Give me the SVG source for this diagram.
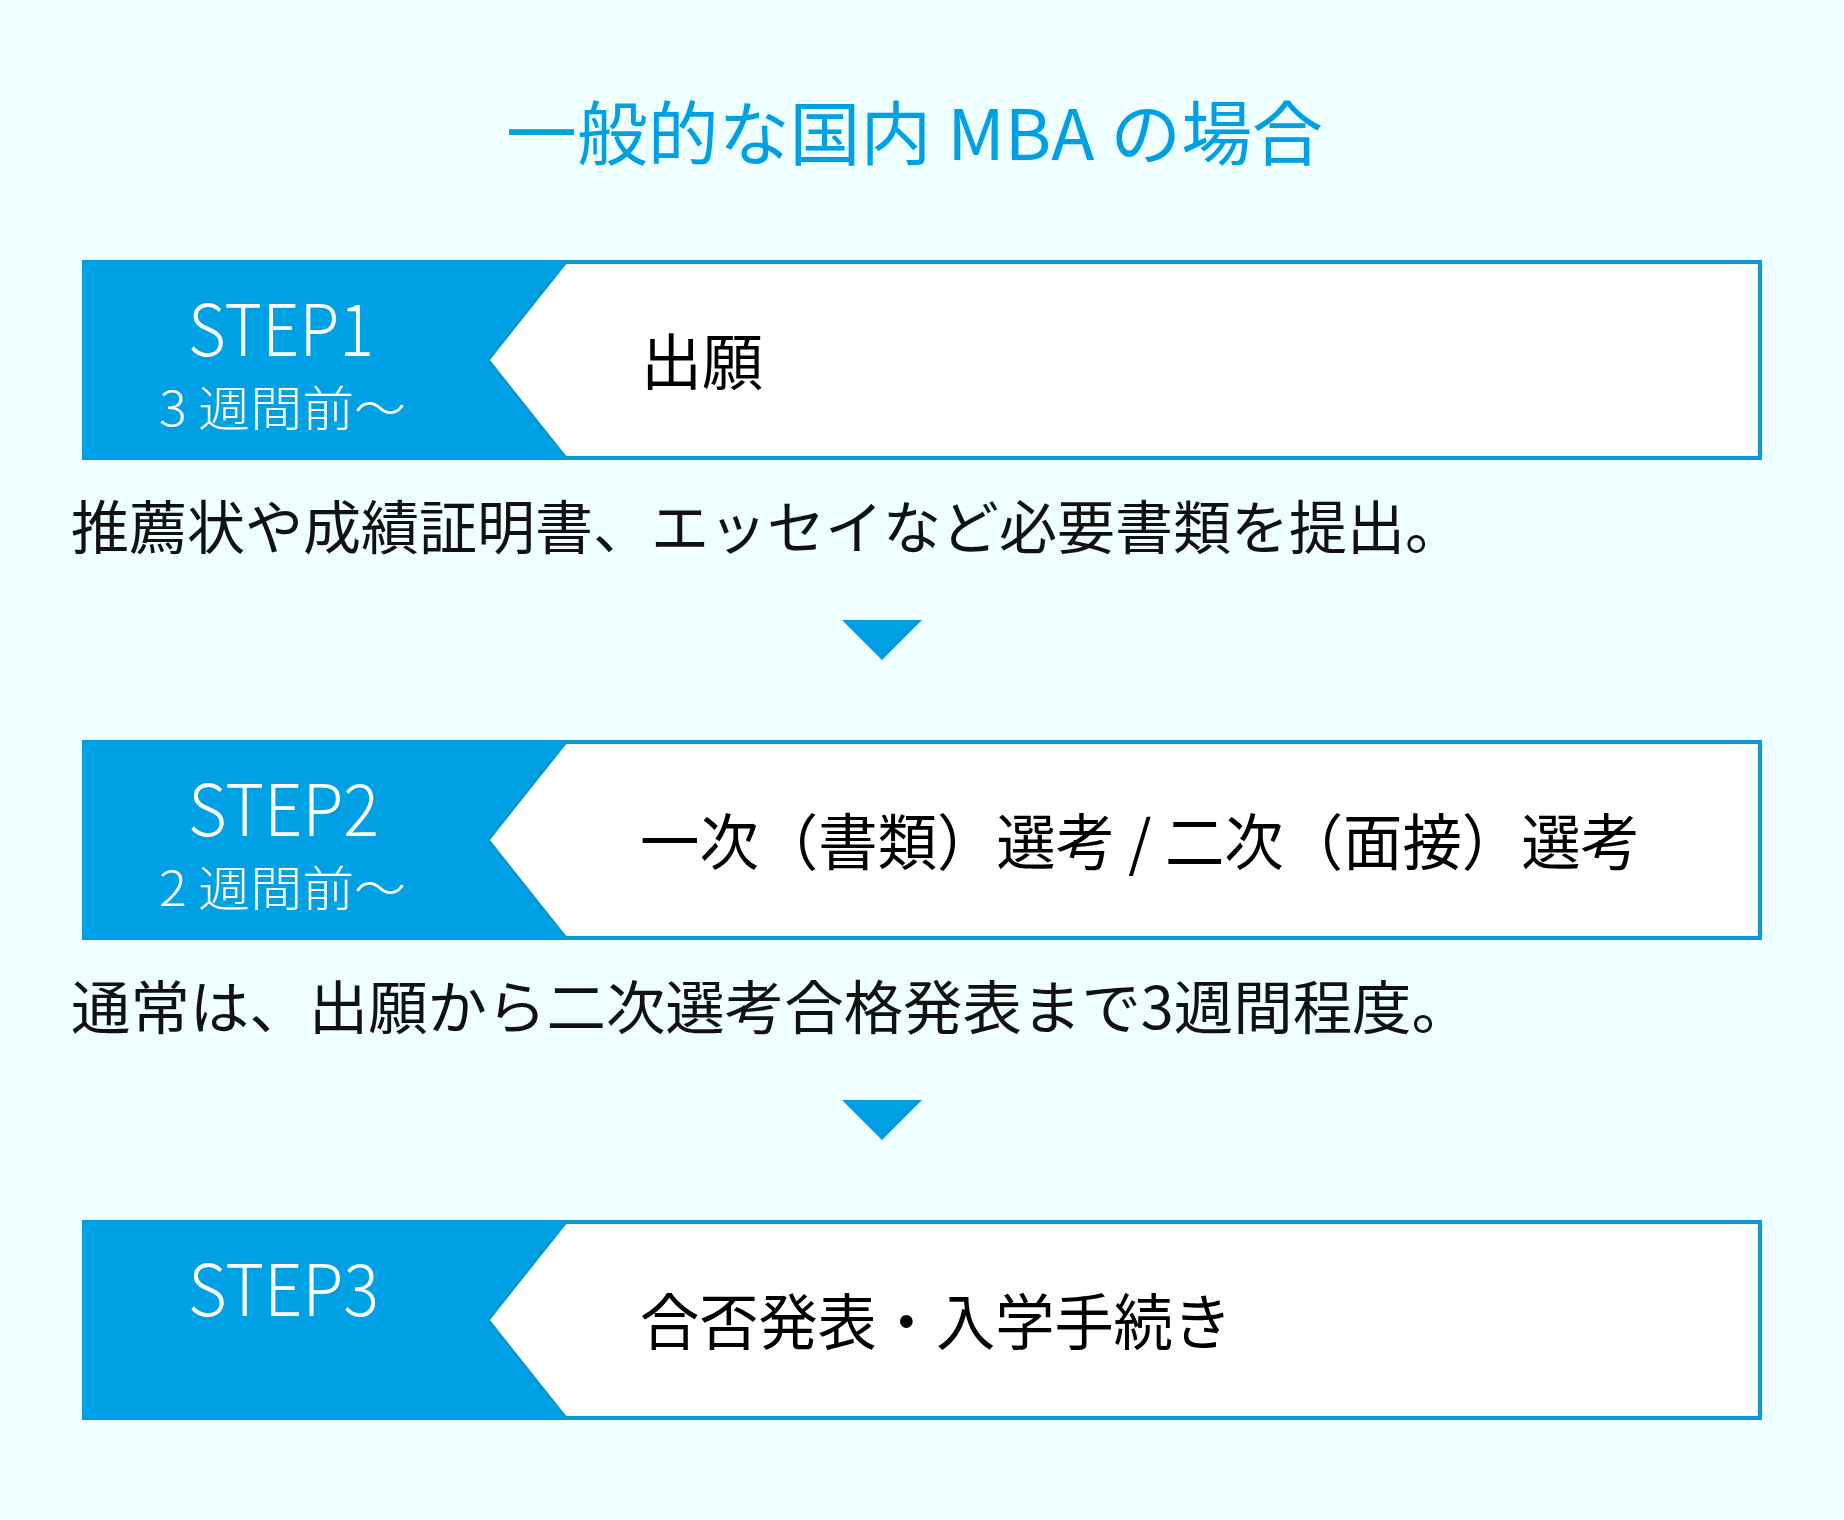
<svg xmlns="http://www.w3.org/2000/svg" width="1844" height="1520" viewBox="0 0 1844 1520">
<style>
.bg{fill:#effefe}
.box{fill:#ffffff;stroke:#0a9bd6;stroke-width:4}
.tab{fill:#00a0e4}
.edge{fill:none;stroke:#0a97cf;stroke-width:3}
.title{font-family:"Noto Sans CJK JP",sans-serif;font-size:70px;fill:#00a0e4}
.step{font-family:"Noto Sans CJK JP",sans-serif;font-weight:300;font-size:72px;fill:#ffffff}
.sub{font-family:"Noto Sans CJK JP",sans-serif;font-weight:300;font-size:48px;fill:#ffffff}
.label{font-family:"Noto Sans CJK JP",sans-serif;font-size:61px;fill:#000000}
.desc{font-family:"Noto Sans CJK JP",sans-serif;font-size:58px;fill:#111111}
.arrow{fill:#00a0e4}
</style>
<rect class="bg" x="0" y="0" width="1844" height="1520"/>
<text class="title" x="506" y="160" textLength="817" lengthAdjust="spacingAndGlyphs">一般的な国内 MBA の場合</text>

<g id="step1">
<rect class="box" x="84" y="262" width="1676" height="196"/>
<polygon class="tab" points="82,260 566,260 488,360 566,460 82,460"/>
<polyline class="edge" points="566,262 488,360 566,458"/>
<text class="step" x="188" y="356" textLength="186" lengthAdjust="spacingAndGlyphs">STEP1</text>
<text class="sub" x="159" y="426" textLength="247" lengthAdjust="spacingAndGlyphs">3 週間前〜</text>
<text class="label" x="641" y="385">出願</text>
</g>
<text id="desc1" class="desc" x="71" y="549" textLength="1392" lengthAdjust="spacingAndGlyphs">推薦状や成績証明書、エッセイなど必要書類を提出。</text>

<g id="step2">
<rect class="box" x="84" y="742" width="1676" height="196"/>
<polygon class="tab" points="82,740 566,740 488,840 566,940 82,940"/>
<polyline class="edge" points="566,742 488,840 566,938"/>
<text class="step" x="188" y="836" textLength="191" lengthAdjust="spacingAndGlyphs">STEP2</text>
<text class="sub" x="159" y="906" textLength="247" lengthAdjust="spacingAndGlyphs">2 週間前〜</text>
<text class="label" x="640" y="865" textLength="1000" lengthAdjust="spacingAndGlyphs">一次（書類）選考 / 二次（面接）選考</text>
</g>
<text id="desc2" class="desc" x="71" y="1029" textLength="1400" lengthAdjust="spacingAndGlyphs">通常は、出願から二次選考合格発表まで3週間程度。</text>

<g id="step3">
<rect class="box" x="84" y="1222" width="1676" height="196"/>
<polygon class="tab" points="82,1220 566,1220 488,1320 566,1420 82,1420"/>
<polyline class="edge" points="566,1222 488,1320 566,1418"/>
<text class="step" x="188" y="1316" textLength="191" lengthAdjust="spacingAndGlyphs">STEP3</text>
<text class="label" x="640" y="1345" textLength="592" lengthAdjust="spacingAndGlyphs">合否発表・入学手続き</text>
</g>

<g id="connectors">
<polygon class="arrow" points="842,620 922,620 882,660"/>
<polygon class="arrow" points="842,1100 922,1100 882,1140"/>
</g>
</svg>
